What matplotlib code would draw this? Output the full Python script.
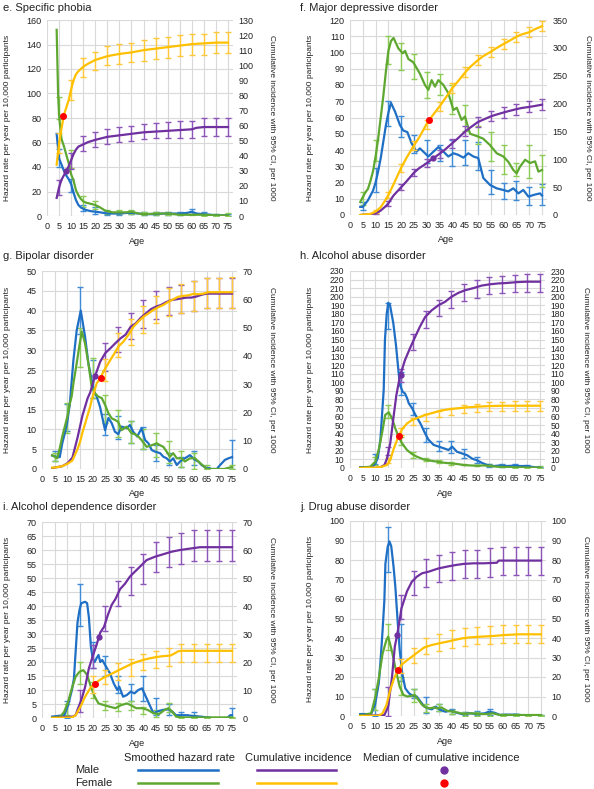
import matplotlib
matplotlib.use('Agg')
import matplotlib.pyplot as plt
from matplotlib.lines import Line2D
import numpy as np

plt.rcParams['font.family'] = ['Liberation Sans', 'DejaVu Sans']

# ---------------- DATA ----------------
AGE_TICKS = list(range(0, 80, 5))

# e. Specific phobia
E_BLUE_AGE = [4, 5, 6, 7, 8, 9, 10, 11, 12, 13, 14, 15, 16, 18, 20, 22, 25, 28, 30, 33, 35, 38, 40, 43, 45, 48, 50, 53, 55, 58, 60, 62, 65, 68, 70, 73, 75]
E_BLUE = [67, 47, 42, 37, 33, 30, 26, 19, 13, 9, 7, 6, 5, 4, 3.5, 3, 2, 2, 2, 2.5, 2.5, 2, 1.5, 1.5, 1.5, 2, 2, 2, 2, 2.5, 3.5, 2, 1.5, 1, 0.5, 0.5, 0.5]
E_GREEN_AGE = [4, 4.6, 5, 5.5, 6, 7, 8, 9, 10, 11, 12, 13, 14, 15, 16, 18, 20, 22, 24, 25, 27, 30, 33, 35, 38, 40, 45, 50, 55, 60, 65, 70, 75]
E_GREEN = [152, 100, 82, 72, 63, 57, 50, 43, 34, 29, 21, 17, 14, 12, 11, 10, 9, 7, 4.5, 4, 3, 3, 3, 3.5, 2, 1.5, 2, 2, 1, 1, 1, 0.5, 0.5]
E_PURPLE_AGE = [4, 5, 6, 7, 8, 9, 10, 11, 12, 13, 15, 17, 20, 25, 30, 35, 40, 45, 50, 55, 60, 62, 65, 70, 75]
E_PURPLE = [12, 19, 24, 27, 30, 33, 37, 41, 44, 46, 47.5, 49, 50.5, 52.5, 53.5, 54.5, 55.5, 56, 56.5, 57, 57.5, 58.5, 59, 59, 59]
E_YELLOW_AGE = [4, 5, 6, 7, 8, 9, 10, 11, 12, 13, 15, 17, 20, 25, 30, 35, 40, 45, 50, 55, 60, 65, 70, 75]
E_YELLOW = [34, 48, 58, 67, 72, 77, 84, 90, 94, 96, 99, 101, 103.5, 106, 107.5, 108.5, 110, 111, 112, 113, 114, 114.5, 115, 115]
E_BLUE_ERR = [(5, 40, 55), (10, 20, 30), (15, 4, 9), (20, 2, 7), (25, 1, 4), (30, 1, 3), (35, 1.5, 4), (40, 0.5, 3), (45, 0.5, 3), (50, 1, 3.5), (55, 1, 3.5), (60, 2, 5.5), (65, 0.5, 3), (70, 0, 1.5), (75, 0, 1.5)]
E_GREEN_ERR = [(5, 79, 97), (10, 39, 54), (15, 7, 16), (20, 6, 12), (25, 2, 5), (30, 2, 4.5), (35, 2, 5), (40, 1, 3), (45, 1, 3), (50, 1, 3), (55, 0.5, 2.5), (60, 0.5, 2), (65, 0.3, 2), (70, 0.2, 1.5), (75, 0, 2.5)]
E_PURPLE_ERR = [(5, 14, 24), (10, 31, 42), (15, 43, 53), (20, 46, 56), (25, 48, 58), (30, 49, 59), (35, 50, 60), (40, 51, 61), (45, 51.5, 62), (50, 52, 62.5), (55, 52, 63), (60, 52, 63), (65, 53, 65), (70, 53, 65), (75, 53, 65)]
E_YELLOW_ERR = [(5, 42, 55), (10, 77, 90), (15, 92, 105), (20, 97, 109), (25, 100, 113), (30, 101, 114), (35, 102, 115), (40, 103, 117), (45, 104, 118), (50, 105, 119), (55, 106, 120), (60, 107, 121), (65, 107, 121), (70, 108, 122), (75, 108, 122)]
E_RED_DOT = (6.8, 66)
E_PURPLE_DOT = (8, 30)

# f. Major depressive disorder
F_BLUE_AGE = [4, 5, 6, 7, 8, 9, 10, 11, 12, 13, 14, 15, 16, 17.6, 19.5, 20.8, 22.4, 24.1, 26, 27.3, 29.3, 30.6, 32.6, 34.5, 36.5, 38.4, 40.4, 42.3, 44.3, 46.2, 48.2, 50.1, 52.1, 54.7, 57.3, 59.9, 61.8, 63.8, 65.8, 67.7, 69.7, 71.6, 74.2, 75]
F_BLUE = [5, 5, 7, 9, 12, 15, 20, 27, 35, 45, 55, 63, 69, 63.6, 55.4, 52, 51, 44, 39, 41, 38, 36, 39, 41.8, 39, 36, 38, 37, 35.3, 38, 36, 35, 22.7, 18.5, 16.4, 15.4, 14.5, 16.4, 13.3, 15.4, 11.3, 12.3, 13.3, 12]
F_GREEN_AGE = [4, 5, 6, 7, 8, 9, 10, 11, 12, 13, 14, 15, 16, 17, 18.9, 20.6, 21.5, 22.8, 24.7, 27.3, 29.3, 30.6, 31.9, 33.2, 34.5, 36.5, 38.4, 40.4, 41.7, 43.6, 44.9, 46.9, 49.5, 52, 54.7, 57.3, 59.9, 61.8, 63.8, 65.1, 66.4, 68.4, 70.3, 72.3, 73.6, 75]
F_GREEN = [8, 11, 14, 16, 21, 27, 36, 47, 60, 73, 88, 101, 107, 109, 102.5, 99.5, 101, 96, 94, 87, 80, 77, 83, 79, 83, 80, 75, 64.6, 66, 58.5, 60.6, 50, 48.6, 47, 43, 38, 36, 32.8, 27.7, 25.6, 29.7, 34, 32, 33, 26.7, 27.7]
F_PURPLE_AGE = [4, 5, 7, 10, 12, 14, 15, 17, 20, 22, 25, 27, 30, 32, 35, 37, 40, 42, 45, 47, 50, 52, 55, 57, 60, 62, 65, 67, 70, 72, 75]
F_PURPLE = [0, 0.5, 1, 3, 8, 16, 21, 35, 50, 60, 76, 84, 93, 100, 110, 117, 129, 137, 150, 157, 167, 171, 177, 180, 184, 186.5, 190, 192, 194, 195.5, 198]
F_YELLOW_AGE = [4, 5, 8, 10, 12, 14, 15, 17, 20, 22, 25, 27, 30, 32, 35, 37, 40, 42, 45, 47, 50, 52, 55, 57, 60, 62, 65, 67, 70, 72, 75]
F_YELLOW = [0, 0.5, 2, 6, 14, 28, 36, 55, 85, 102, 125, 139, 164, 177, 195, 208, 228, 239, 256, 266, 278, 285, 293, 299, 307, 312, 320, 324, 328, 333, 339]
F_BLUE_ERR = [(5, 3, 8), (10, 14, 29), (15, 55, 70), (20, 48, 61), (25, 38, 49), (30, 32, 46), (35, 33, 43), (40, 30, 46), (45, 31, 46), (50, 28, 45), (55, 13, 28), (60, 10, 20), (65, 9, 21), (70, 6, 17), (75, 6, 19)]
F_GREEN_ERR = [(5, 6, 14), (10, 33, 46), (15, 93, 110), (20, 89, 106), (25, 84, 99), (30, 72, 88), (35, 74, 87), (40, 62, 80), (45, 52, 68), (50, 44, 55), (55, 33, 51), (60, 25, 43), (65, 24, 32), (70, 23, 43), (75, 17, 37)]
F_PURPLE_ERR = [(10, 1, 5), (15, 17, 26), (20, 45, 56), (25, 70, 82), (30, 87, 100), (35, 103, 117), (40, 121, 137), (45, 141, 159), (50, 158, 176), (55, 168, 186), (60, 175, 194), (65, 180, 199), (70, 184, 204), (75, 188, 208)]
F_YELLOW_ERR = [(10, 3, 9), (15, 30, 42), (20, 78, 92), (25, 117, 133), (30, 155, 171), (35, 187, 203), (40, 219, 237), (45, 247, 265), (50, 269, 287), (55, 284, 302), (60, 298, 316), (65, 311, 329), (70, 319, 337), (75, 330, 348)]
F_RED_DOT = (31, 171)
F_PURPLE_DOT = (32.5, 102)

# g. Bipolar disorder
G_BLUE_AGE = [4, 5, 6, 7, 8, 9, 10, 11, 12.4, 13.7, 15.3, 17, 18.3, 19.6, 20.6, 21.6, 22.9, 24.9, 26.2, 27.5, 28.8, 30.1, 31.4, 33.4, 34.7, 36, 37.6, 39.3, 40.7, 42, 43.3, 44.6, 46.6, 47.9, 49.2, 50.5, 51.8, 53.2, 54.5, 56.4, 58.4, 60.4, 61.7, 63, 65, 67, 69, 70.3, 72.2, 73.6, 75]
G_BLUE = [3.4, 3.2, 3, 3, 6.5, 9, 12, 16.6, 27.5, 35, 40, 33.4, 26.7, 22.5, 19.5, 18.3, 15.7, 9.8, 12.9, 11.6, 9.4, 8.8, 10.7, 10.3, 11.1, 9.4, 8.2, 10.3, 7.3, 6.5, 4.8, 4.4, 4, 3.1, 2.7, 1.9, 2.7, 1, 1.9, 2.7, 3.5, 2.3, 1.9, 1, 0.2, 0, 0, 1, 2.3, 2.7, 3]
G_GREEN_AGE = [4, 5, 6, 7, 8, 9, 10, 11, 11.7, 12.4, 13.7, 14.7, 15.7, 17, 18.3, 19.6, 20.9, 22.2, 23.6, 24.9, 26.2, 27.5, 28.8, 30.1, 31.4, 33.4, 35.4, 36.7, 38, 39.3, 41.3, 43.3, 45.3, 46.6, 47.9, 49.2, 50.5, 51.8, 53.2, 55.1, 56.4, 58.4, 60.4, 62.4, 63.7, 65, 72, 73, 75]
G_GREEN = [3.5, 3.1, 2.7, 5.2, 8.2, 10.7, 13.2, 16.6, 18.3, 21.6, 26.7, 30.9, 34.7, 31.7, 26.7, 20.8, 19.1, 18.3, 17.9, 16.2, 14.1, 12.8, 12.4, 11.9, 9.8, 10.7, 9, 8.8, 8.2, 7.3, 5.6, 6, 6.5, 6, 5.6, 4.4, 3.1, 4, 2.7, 2.7, 1.9, 2.7, 2.7, 1.5, 0.8, 0, 0, 0.2, 0.5]
G_PURPLE_AGE = [4, 5, 8, 10, 12, 14, 15, 16, 17, 18, 19, 20, 21, 23, 25, 27, 29, 31, 33, 35, 37, 39, 41, 43, 45, 47, 49, 51, 53, 55, 57, 59, 61, 63, 65, 75]
G_PURPLE = [0.3, 0.5, 1, 2, 4, 11, 15, 19, 22, 25, 27, 30, 33, 38, 41, 42.7, 44.5, 46.2, 47.5, 50.3, 51.5, 53.5, 55, 56.5, 57.4, 58, 59, 59.7, 60, 60.3, 60.6, 60.6, 61, 61.6, 62, 62]
G_YELLOW_AGE = [4, 5, 8, 10, 12, 14, 15, 16, 17, 18, 19, 19.6, 21.6, 23.2, 24.2, 26.2, 28.2, 30.1, 32.1, 34.1, 36.1, 38, 40, 42, 43.9, 45.9, 47.9, 49.9, 51.8, 53.8, 55.8, 57.8, 59.7, 61.7, 63.7, 65.7, 67.6, 75]
G_YELLOW = [0.5, 0.5, 1, 1.8, 3, 7, 9.5, 13, 16, 19, 22, 24.4, 30.3, 32.3, 34.4, 37.4, 40.3, 43.2, 45, 47.4, 50.3, 52.1, 53.8, 55, 56.2, 57.2, 58, 59.1, 60, 60.9, 61.2, 61.4, 61.9, 61.8, 62, 62.5, 62.5, 62.5]
G_BLUE_ERR = [(5, 2, 4.5), (10, 9.5, 16.5), (15, 34, 46), (20, 18, 27.5), (25, 8.5, 14), (30, 7.5, 13.5), (35, 6.5, 12), (40, 5, 10.5), (45, 2, 6), (50, 1, 4), (55, 0.5, 3), (60, 1, 4.5), (65, 0, 0.5), (75, 0, 7.3)]
G_GREEN_ERR = [(5, 2, 4), (10, 9, 16.6), (15, 25.8, 35.5), (20, 18, 28), (25, 11.5, 18.7), (30, 8, 15), (35, 6.5, 12), (40, 5, 10), (45, 3, 9), (50, 1.5, 7), (55, 0.5, 4.5), (60, 0, 4), (65, 0, 1), (75, 0, 1)]
G_PURPLE_ERR = [(25, 34.5, 44.5), (30, 41.5, 50.1), (35, 46, 55.3), (40, 49.7, 59.7), (45, 52.9, 62.9), (50, 54.5, 64.5), (55, 55, 65), (60, 56, 66.5), (65, 57, 67.5), (70, 57, 67.5), (75, 57, 67.5)]
G_YELLOW_ERR = [(25, 31, 39), (30, 39.7, 48), (35, 44, 53), (40, 48, 57.5), (45, 51.5, 61), (50, 54, 64), (55, 55, 65.5), (60, 56, 66.5), (65, 57, 67.5), (70, 57, 67.5), (75, 57, 68)]
G_RED_DOT = (23.2, 32.3)
G_PURPLE_DOT = (21, 33)

# h. Alcohol abuse disorder
H_BLUE_AGE = [4, 6, 8, 9, 10, 11, 12, 12.6, 13.3, 13.8, 14.5, 15.1, 15.8, 17.1, 18.2, 19.1, 19.7, 20.8, 21.7, 22.6, 23.2, 24.5, 25.8, 27.8, 29.7, 31, 33, 35, 37, 38.9, 40.3, 42.2, 44.2, 46.2, 48.2, 50.1, 52.1, 54.1, 56.7, 59.3, 62, 64.6, 67.2, 69.9, 72.5, 75]
H_BLUE = [1, 1, 1, 2, 5, 12, 33, 60, 91, 150, 180, 193, 190, 169, 142, 114, 97, 89, 87, 81, 75.5, 70, 62, 52, 40, 33, 27, 25, 23, 21, 25, 19, 17, 15, 11, 9, 6, 3.5, 2.3, 3, 2.3, 2.7, 2.3, 2.3, 1, 0.5]
H_GREEN_AGE = [4, 5.4, 8, 10, 11.3, 12.6, 13.9, 15.3, 16.6, 17.9, 19.2, 20.5, 22.5, 24.5, 26.4, 29.1, 31.7, 34.3, 37, 39.6, 42.2, 44.9, 47.5, 50.1, 52.8, 55.4, 58, 60.7, 64.6, 70, 75]
H_GREEN = [0.5, 0.8, 1.5, 7.4, 21, 40, 62, 65, 58, 46, 36.6, 29, 21, 16.3, 13.2, 10, 8.6, 7.4, 6.2, 5.4, 4.7, 3.5, 3, 2.7, 3, 2.3, 1.5, 1.2, 0.8, 0.5, 0.5]
H_PURPLE_AGE = [4, 10, 12, 13.6, 14.6, 15.9, 17.2, 18.3, 19.7, 21.7, 23.7, 25.7, 27.6, 29.6, 32.2, 34.9, 37.5, 40.1, 42.8, 45.4, 48.7, 52, 55.3, 58.6, 61.8, 65.8, 69.7, 75]
H_PURPLE = [0, 0, 1, 3.5, 11, 29, 60, 85, 107, 126, 140, 153, 165, 176, 184, 190, 194, 200, 204.5, 207.5, 210, 213, 214.5, 215.5, 216, 217, 217.5, 217.5]
H_YELLOW_AGE = [4, 10, 12, 13, 14.6, 15.9, 17.2, 18.6, 20.5, 22.5, 24.5, 27.1, 29.7, 33, 35.7, 38.9, 42.2, 46.2, 50.1, 55.4, 60.7, 65.9, 75]
H_YELLOW = [0, 0.5, 1, 2, 3.5, 9.3, 22, 33, 45, 52, 56, 59, 62, 64.6, 67, 68.5, 69.6, 70.8, 71.6, 72.3, 72.7, 72.7, 72.7]
H_BLUE_ERR = [(10, 5, 16), (15, 162, 193), (20, 85, 112), (25, 62, 76), (30, 30, 47), (35, 20, 31), (40, 18, 32), (45, 12, 22), (50, 6, 13), (55, 1, 5), (60, 1, 5), (65, 1, 5), (70, 1, 4), (75, 0, 1)]
H_GREEN_ERR = [(10, 4, 13), (15, 58, 73), (20, 27, 36), (25, 12, 19), (30, 8, 12), (35, 6, 9), (40, 4, 7), (45, 3, 5), (50, 2, 4), (55, 2, 5), (60, 1, 3), (65, 0.5, 2), (70, 0.3, 1.5), (75, 0, 2)]
H_PURPLE_ERR = [(15, 15, 25), (20, 100, 116), (25, 138, 156), (30, 163, 183), (35, 177, 196), (40, 187, 207), (45, 195, 215), (50, 199, 220), (55, 203, 223), (60, 204, 224), (65, 205, 225), (70, 206, 226), (75, 206, 227)]
H_YELLOW_ERR = [(15, 6, 12), (20, 38, 47), (25, 50, 58), (30, 55, 63), (35, 59, 67), (40, 62, 70), (45, 64, 73), (50, 65, 75), (55, 67, 77), (60, 67, 77), (65, 67, 78), (70, 67, 78), (75, 67, 78)]
H_RED_DOT = (19.2, 37)
H_PURPLE_DOT = (20, 108)

# i. Alcohol dependence disorder
I_BLUE_AGE = [4, 8.8, 10.3, 11.8, 12.6, 13.3, 14, 14.8, 15.5, 17, 17.8, 18.5, 19.3, 20, 20.8, 21.5, 22.3, 23, 23.8, 25.3, 26.8, 28.3, 29.7, 30.5, 32, 33.5, 35, 36.5, 38, 39.5, 41, 42.5, 44, 45.4, 47.7, 49.9, 51.4, 52.9, 55.2, 57.4, 59.6, 62.6, 67.1, 73.1, 74.3, 75]
I_BLUE = [0.5, 1, 4.6, 10, 14, 24, 34, 38.6, 41, 41.5, 41, 36, 25.5, 21.3, 20, 21.3, 22.5, 20, 20.7, 18.3, 16, 12.4, 10, 11.2, 7.6, 8.2, 9.4, 8.8, 10, 10.6, 7.6, 4.6, 1.7, 2.3, 2.9, 3.1, 2.3, 1, 1, 1, 0.7, 0.5, 0, 0, 1, 1]
I_GREEN_AGE = [4, 7.3, 8.8, 10.3, 11.8, 13.3, 14.8, 16.3, 17.8, 19.3, 20.8, 22.3, 24.5, 26.8, 29, 31.2, 33.5, 35, 37.2, 39.5, 41.7, 44, 46.2, 48.4, 49.9, 51.4, 52.9, 55, 75]
I_GREEN = [0.2, 0.5, 2.3, 5.8, 10.6, 14.8, 16.5, 17.1, 15.4, 11.2, 7.6, 5.2, 4.6, 4, 3.5, 4.6, 5.2, 4.6, 3.5, 3.5, 2.9, 1.7, 1.4, 2.9, 3.5, 2.3, 0.5, 0.2, 0.2]
I_PURPLE_AGE = [4, 12, 13.3, 14, 15.5, 17, 18.5, 20, 21.5, 23, 24.5, 26, 27.5, 29, 30.8, 32.8, 34.7, 36.7, 39.3, 41.3, 44.6, 47.9, 51.2, 54.5, 58.4, 62.4, 75]
I_PURPLE = [0, 0.5, 1, 2.9, 6.4, 11, 17.7, 22, 26, 30.5, 32.6, 36.8, 40.4, 42.5, 46, 48, 50.5, 52.3, 54.6, 56.4, 57.6, 58.5, 59.4, 60, 60.5, 61, 61]
I_YELLOW_AGE = [4, 11.8, 13.3, 15.5, 17, 19.3, 20.8, 22.3, 24.5, 26.8, 29, 31.2, 33.5, 35.7, 38, 40.2, 42.5, 44.7, 46.9, 49.2, 50.7, 52.2, 53.7, 55.2, 75]
I_YELLOW = [0, 0.2, 1, 4.6, 7.6, 11, 12, 13.3, 14.5, 15.5, 16.5, 17.5, 18.5, 19.5, 20.2, 20.8, 21.3, 21.7, 22, 22.2, 22.3, 23, 23.8, 24, 24]
I_BLUE_ERR = [(10, 0, 6), (15, 33, 48), (20, 18, 27), (25, 15, 22), (30, 9, 15), (35, 6, 12), (40, 6, 15), (45, 1, 7), (50, 1, 5), (55, 0.5, 2), (60, 0, 2), (65, 0, 0.5), (75, 0, 3.5)]
I_GREEN_ERR = [(10, 1, 5), (15, 12, 20), (20, 7, 13), (25, 3, 6), (30, 2.5, 5.5), (35, 3, 6), (40, 1.5, 4), (45, 0.5, 3), (50, 2, 5.5), (55, 0, 1), (60, 0, 1), (65, 0, 0.5), (75, 0, 0.5)]
I_PURPLE_ERR = [(15, 2, 10), (20, 18, 26), (25, 31, 40), (30, 40, 49), (35, 44, 54), (40, 48, 58.5), (45, 52, 63), (50, 54, 64.5), (55, 55, 66), (60, 56, 67), (65, 56, 67), (70, 56, 67), (75, 56, 67)]
I_YELLOW_ERR = [(20, 9, 15), (25, 12, 17), (30, 13.5, 19.5), (35, 15, 21), (40, 17, 23), (45, 18, 24), (50, 18.5, 25), (55, 20, 26.5), (60, 20, 26.5), (65, 20, 26.5), (70, 20, 26.5), (75, 20, 26.5)]
I_RED_DOT = (21, 12)
I_PURPLE_DOT = (22.6, 29)

# j. Drug abuse disorder
J_BLUE_AGE = [4, 8.3, 9.8, 11.3, 12.1, 12.8, 13.5, 13.9, 14.8, 15.5, 16.2, 17.1, 17.8, 18.8, 19.5, 20.5, 21.7, 23.2, 24.7, 26.2, 27.7, 29.2, 30.7, 32.1, 33.6, 35.1, 37.4, 39.6, 41.8, 44, 47, 50, 53, 54.5, 56.7, 58.9, 61.9, 64.9, 67.9, 70.8, 75]
J_BLUE = [1, 1, 5.6, 16.8, 30.4, 44, 59.5, 78, 86.8, 89.5, 87, 76.6, 66.3, 47, 34, 22, 14.2, 11.6, 10.3, 10, 7.4, 4.8, 3.9, 3.4, 4.8, 3.4, 2.2, 2.7, 1.7, 1, 1.4, 1, 1.4, 2.2, 1.7, 0.5, 0.7, 0.7, 0.4, 0.2, 0.2]
J_GREEN_AGE = [4, 5.4, 8.3, 9.8, 11.3, 12.8, 14.3, 15, 16.5, 18, 19.5, 21, 22.5, 24, 25.4, 26.9, 28.4, 29.9, 31.4, 32.9, 34.4, 35.9, 38.1, 40.4, 42.6, 44.8, 47.8, 50.7, 53.7, 56, 58.9, 75]
J_GREEN = [0.5, 0.5, 1.4, 9, 19.3, 32, 39, 40.7, 33, 23.6, 15, 10.8, 10, 10.3, 10.8, 8.2, 5.6, 4.4, 3.9, 4.4, 3.9, 4.4, 2.7, 2.2, 1.7, 1, 1.4, 1, 1, 1.4, 0.5, 0.5]
J_PURPLE_AGE = [4, 13.5, 15, 16.5, 17.6, 18.5, 19.5, 20.2, 21.7, 22.4, 24.3, 26.3, 28.3, 30.9, 32.9, 34.8, 38.1, 41.4, 44.6, 48.6, 52.5, 57.7, 58.4, 63, 75]
J_PURPLE = [0, 0.5, 4.8, 20, 35.6, 41.5, 49.2, 55.2, 61.2, 64, 68.9, 71.5, 73.2, 74, 74.9, 75.7, 76.6, 77.4, 78, 78.3, 78.3, 78.6, 79.7, 79.7, 79.7]
J_YELLOW_AGE = [4, 11.3, 12.8, 14.3, 15.8, 17.3, 18.8, 20.2, 22.5, 24.7, 26.9, 29.2, 32.1, 35.1, 38.1, 41.1, 44, 47, 51.5, 56, 60.4, 66.4, 75]
J_YELLOW = [0, 0.2, 1.4, 5.6, 13.3, 19.3, 23.6, 26.2, 28.7, 30.8, 33, 35.2, 36.4, 37.3, 38.1, 39, 39.8, 40.3, 40.7, 41, 41.5, 41.9, 41.9]
J_BLUE_ERR = [(10, 0, 14), (15, 74, 97), (20, 18, 47), (25, 9, 14), (30, 1.5, 9.5), (35, 2.5, 6), (40, 1, 3.5), (45, 0.5, 2), (50, 0.5, 2.5), (55, 0.5, 3.5), (60, 0, 1), (65, 0, 1), (70, 0, 0.5), (75, 0, 0.5)]
J_GREEN_ERR = [(10, 3, 14), (15, 34, 47), (20, 11, 20), (25, 7, 14), (30, 2, 6), (35, 2.5, 6), (40, 1, 3), (45, 0, 2), (50, 0, 2), (55, 0, 2), (60, 0, 1), (65, 0, 1), (70, 0, 0.5), (75, 0, 0.5)]
J_PURPLE_ERR = [(15, 0, 15), (20, 50, 62), (25, 62, 74.5), (30, 66, 80.5), (35, 68.5, 82.5), (40, 70, 84), (45, 71, 85), (50, 71, 85), (55, 71.5, 86), (60, 72.5, 86.5), (65, 72.5, 86.5), (70, 72.5, 86.5), (75, 72.5, 86.5)]
J_YELLOW_ERR = [(20, 22, 29), (25, 27, 35), (30, 32, 40), (35, 33.5, 42), (40, 35, 44), (45, 36, 45), (50, 37, 45.5), (55, 37, 46), (60, 37.5, 46.5), (65, 37.5, 46.5), (70, 37.5, 46.5), (75, 37.5, 46.5)]
J_RED_DOT = (19, 23.6)
J_PURPLE_DOT = (18.5, 41.5)

TITLES = ['e. Specific phobia', 'f. Major depressive disorder', 'g. Bipolar disorder',
          'h. Alcohol abuse disorder', 'i. Alcohol dependence disorder', 'j. Drug abuse disorder']
LEFT_LABEL = 'Hazard rate per year per 10,000 participants'
RIGHT_LABEL = 'Cumulative incidence with 95% CI, per 1000'

# ---------------- STYLE ----------------
W, H = 594, 789
XMAX = 77
BLUE, BLUE_E = '#1F6FC5', '#3F8BD6'
GREEN, GREEN_E = '#5EA832', '#8CCB55'
PURPLE, PURPLE_E = '#7030A0', '#8C56B8'
YELLOW, YELLOW_E = '#FFC000', '#FFC83A'
RED = '#FF0000'
GRID = '#D9D9D9'
TXT = '#222222'

fig = plt.figure(figsize=(W / 100, H / 100), dpi=100)


def ftext(x, y, s, **kw):
    fig.text(x / W, 1 - y / H, s, color=TXT, **kw)


def ebars(ax, errs, color):
    a = [e[0] for e in errs]
    lo = np.array([e[1] for e in errs], dtype=float)
    hi = np.array([e[2] for e in errs], dtype=float)
    ax.errorbar(a, (lo + hi) / 2, yerr=(hi - lo) / 2, fmt='none', ecolor=color,
                elinewidth=1.0, capsize=2.3, capthick=1.0, zorder=2)


def panel(geom, title, lmax, lstep, rmax, rstep, series, errs, red, pdot, tfs=6.5):
    x0, x75, ytop, ybot, ttl_y, ylab_x, rlab_x, age_y = geom
    ppy = (x75 - x0) / 75.0
    ax = fig.add_axes([x0 / W, 1 - ybot / H, XMAX * ppy / W, (ybot - ytop) / H])
    ax.set_xlim(0, XMAX)
    ax.set_ylim(0, lmax)
    ax.set_xticks(AGE_TICKS)
    ax.set_yticks(np.arange(0, lmax + 0.01, lstep))
    ax.grid(True, color=GRID, lw=0.8)
    ax.set_axisbelow(True)
    for s in ax.spines.values():
        s.set_visible(False)
    ax.tick_params(length=0, labelsize=tfs, pad=4, colors=TXT)
    (ba, bv), (ga, gv), (pa, pv), (ya, yv) = series
    be, ge, pe, ye = errs
    ebars(ax, be, BLUE_E)
    ebars(ax, ge, GREEN_E)
    ax.plot(ba, bv, color=BLUE, lw=1.6, zorder=3)
    ax.plot(ga, gv, color=GREEN, lw=1.6, zorder=3)

    ax2 = ax.twinx()
    ax2.set_ylim(0, rmax)
    ax2.set_yticks(np.arange(0, rmax + 0.01, rstep))
    for s in ax2.spines.values():
        s.set_visible(False)
    ax2.tick_params(length=0, labelsize=tfs, pad=4, colors=TXT)
    ebars(ax2, pe, PURPLE_E)
    ebars(ax2, ye, YELLOW_E)
    ax2.plot(pa, pv, color=PURPLE, lw=1.6, zorder=3)
    ax2.plot(ya, yv, color=YELLOW, lw=1.6, zorder=3)
    ax2.plot([pdot[0]], [pdot[1]], 'o', color=PURPLE, ms=3.5, zorder=5)
    ax2.plot([red[0]], [red[1]], 'o', color=RED, ms=4, zorder=6)

    tx = 3 if x0 < 200 else 300
    ftext(tx, ttl_y, title, fontsize=8, ha='left', va='center')
    ftext(ylab_x, (ytop + ybot) / 2, LEFT_LABEL, fontsize=6, rotation=90, ha='center', va='center')
    ftext(rlab_x, (ytop + ybot) / 2, RIGHT_LABEL, fontsize=6, rotation=270, ha='center', va='center')
    ftext(x0 + 37.5 * ppy, age_y, 'Age', fontsize=6.5, ha='center', va='center')


# geometry: x(age0), x(age75), ytop, ybot, title_y, leftlabel_x, rightlabel_x, age_y
panel((47, 228, 20, 216, 8, 8, 271, 241), TITLES[0], 160, 20, 130, 10,
      [(E_BLUE_AGE, E_BLUE), (E_GREEN_AGE, E_GREEN), (E_PURPLE_AGE, E_PURPLE), (E_YELLOW_AGE, E_YELLOW)],
      [E_BLUE_ERR, E_GREEN_ERR, E_PURPLE_ERR, E_YELLOW_ERR], E_RED_DOT, E_PURPLE_DOT)
panel((350, 542, 20, 215, 8, 310, 587, 240), TITLES[1], 120, 10, 350, 50,
      [(F_BLUE_AGE, F_BLUE), (F_GREEN_AGE, F_GREEN), (F_PURPLE_AGE, F_PURPLE), (F_YELLOW_AGE, F_YELLOW)],
      [F_BLUE_ERR, F_GREEN_ERR, F_PURPLE_ERR, F_YELLOW_ERR], F_RED_DOT, F_PURPLE_DOT)
panel((42, 232, 271, 469, 256, 8, 271, 493), TITLES[2], 50, 5, 70, 10,
      [(G_BLUE_AGE, G_BLUE), (G_GREEN_AGE, G_GREEN), (G_PURPLE_AGE, G_PURPLE), (G_YELLOW_AGE, G_YELLOW)],
      [G_BLUE_ERR, G_GREEN_ERR, G_PURPLE_ERR, G_YELLOW_ERR], G_RED_DOT, G_PURPLE_DOT)
panel((350, 540, 271, 468, 256, 310, 586, 493), TITLES[3], 230, 10, 230, 10,
      [(H_BLUE_AGE, H_BLUE), (H_GREEN_AGE, H_GREEN), (H_PURPLE_AGE, H_PURPLE), (H_YELLOW_AGE, H_YELLOW)],
      [H_BLUE_ERR, H_GREEN_ERR, H_PURPLE_ERR, H_YELLOW_ERR], H_RED_DOT, H_PURPLE_DOT, tfs=6.2)
panel((42, 232, 522, 718, 507, 8, 271, 743), TITLES[4], 70, 5, 70, 10,
      [(I_BLUE_AGE, I_BLUE), (I_GREEN_AGE, I_GREEN), (I_PURPLE_AGE, I_PURPLE), (I_YELLOW_AGE, I_YELLOW)],
      [I_BLUE_ERR, I_GREEN_ERR, I_PURPLE_ERR, I_YELLOW_ERR], I_RED_DOT, I_PURPLE_DOT)
panel((350, 541, 521, 716, 507, 310, 585, 741), TITLES[5], 100, 10, 100, 10,
      [(J_BLUE_AGE, J_BLUE), (J_GREEN_AGE, J_GREEN), (J_PURPLE_AGE, J_PURPLE), (J_YELLOW_AGE, J_YELLOW)],
      [J_BLUE_ERR, J_GREEN_ERR, J_PURPLE_ERR, J_YELLOW_ERR], J_RED_DOT, J_PURPLE_DOT)

# ---------------- LEGEND ----------------
ftext(179, 758, 'Smoothed hazard rate', fontsize=8, ha='center', va='center')
ftext(298, 758, 'Cumulative incidence', fontsize=8, ha='center', va='center')
ftext(441, 758, 'Median of cumulative incidence', fontsize=8, ha='center', va='center')
ftext(75, 770, 'Male', fontsize=8, ha='left', va='center')
ftext(75, 783, 'Female', fontsize=8, ha='left', va='center')


def fline(x1, x2, y, color):
    fig.add_artist(Line2D([x1 / W, x2 / W], [1 - y / H, 1 - y / H], color=color, lw=1.8,
                          transform=fig.transFigure))


def fdot(x, y, color):
    fig.add_artist(Line2D([x / W], [1 - y / H], marker='o', ms=5, color=color, lw=0,
                          transform=fig.transFigure))


fline(138, 218, 770, BLUE)
fline(138, 218, 783, GREEN)
fline(257, 336, 770, PURPLE)
fline(257, 336, 783, YELLOW)
fdot(444, 770, PURPLE)
fdot(444, 783, RED)

fig.savefig('out.png', dpi=100, facecolor='white')
